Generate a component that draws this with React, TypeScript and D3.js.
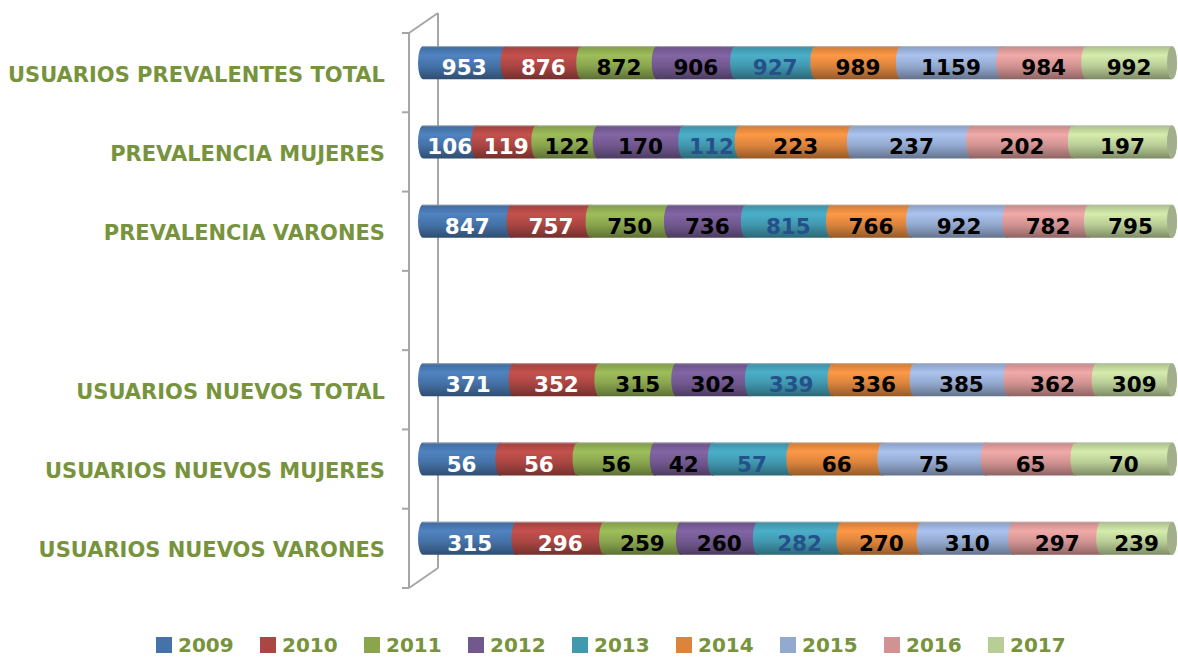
import React from 'react';
import * as d3 from 'd3';

const categories = [
  'USUARIOS PREVALENTES TOTAL',
  'PREVALENCIA MUJERES',
  'PREVALENCIA VARONES',
  '',
  'USUARIOS NUEVOS TOTAL',
  'USUARIOS NUEVOS MUJERES',
  'USUARIOS NUEVOS VARONES',
];

const years = ['2009', '2010', '2011', '2012', '2013', '2014', '2015', '2016', '2017'];

const prevalentesTotal = [953, 876, 872, 906, 927, 989, 1159, 984, 992];
const prevalenciaMujeres = [106, 119, 122, 170, 112, 223, 237, 202, 197];
const prevalenciaVarones = [847, 757, 750, 736, 815, 766, 922, 782, 795];
const nuevosTotal = [371, 352, 315, 302, 339, 336, 385, 362, 309];
const nuevosMujeres = [56, 56, 56, 42, 57, 66, 75, 65, 70];
const nuevosVarones = [315, 296, 259, 260, 282, 270, 310, 297, 239];

const rows = [prevalentesTotal, prevalenciaMujeres, prevalenciaVarones, null, nuevosTotal, nuevosMujeres, nuevosVarones];

const colors = ['#4572A7', '#AA4643', '#89A54E', '#71588F', '#4198AF', '#DB843D', '#93A9CF', '#D19392', '#B9CD96'];
const labelColors = ['#ffffff', '#ffffff', '#000000', '#000000', '#24518a', '#000000', '#000000', '#000000', '#000000'];

const W = 1178;
const H = 657;
const green = '#77933C';
const font = '"DejaVu Sans", sans-serif';

// 3d depth of the wall
const depthX = 29;
const depthY = 20;

const App = () => {
  const y = d3.scaleBand<string>().domain(categories.map((c, i) => i + '')).range([33, 588]);
  const x = d3.scaleLinear().domain([0, 1]).range([423, 1172]);
  const barH = 33;
  const rx = 5;
  const ry = barH / 2;

  const edges = d3.range(categories.length + 1).map(i => 33 + i * y.step());

  return (
    <svg width={W} height={H} style={{ position: 'absolute', left: 0, top: 0 }}>
      <defs>
        {colors.map((c, i) => {
          const col = d3.color(c)!;
          return (
            <linearGradient key={i} id={'g' + i} x1="0" y1="0" x2="0" y2="1">
              <stop offset="0" stopColor={col.darker(0.2).toString()} />
              <stop offset="0.28" stopColor={col.brighter(0.4).toString()} />
              <stop offset="0.6" stopColor={col.toString()} />
              <stop offset="0.88" stopColor={col.darker(0.7).toString()} />
              <stop offset="1" stopColor={col.darker(1.1).toString()} />
            </linearGradient>
          );
        })}
      </defs>

      {/* back wall and axis */}
      <g stroke="#a6a6a6" strokeWidth={2} fill="none">
        <line x1={409 + depthX} y1={33 - depthY} x2={409 + depthX} y2={588 - depthY} />
        <line x1={409} y1={33} x2={409} y2={588} />
        <line x1={409} y1={33} x2={409 + depthX} y2={33 - depthY} />
        <line x1={409} y1={588} x2={409 + depthX} y2={588 - depthY} />
        {edges.map((e, i) => (
          <line key={i} x1={402} y1={e} x2={409} y2={e} />
        ))}
      </g>

      {categories.map((c, i) => (
        <text key={c + i} x={385} y={y(i + '')! + y.bandwidth() / 2 + 9} textAnchor="end"
          fontFamily={font} fontWeight="bold" fontSize={21} fill={green}>{c}</text>
      ))}

      {rows.map((vals, r) => {
        if (!vals) return null;
        const total = d3.sum(vals);
        const cum = d3.cumsum(vals);
        const cy = y(r + '')! + y.bandwidth() / 2 - 10;
        const top = cy - ry;
        const bot = cy + ry;
        return (
          <g key={r}>
            {vals.map((v, i) => {
              const x0 = x(i === 0 ? 0 : cum[i - 1] / total);
              const x1 = x(cum[i] / total);
              const d = `M${x0},${top}L${x1},${top}A${rx},${ry} 0 0 1 ${x1},${bot}L${x0},${bot}A${rx},${ry} 0 0 1 ${x0},${top}Z`;
              return <path key={i} d={d} fill={`url(#g${i})`} />;
            })}
            <ellipse cx={x(1)} cy={cy} rx={rx} ry={ry}
              fill={d3.interpolateRgb(colors[8], '#777')(0.35)} />
            <line x1={x(0)} y1={top + 0.5} x2={x(1)} y2={top + 0.5} stroke="#bbbbbb" strokeOpacity={0.6} />
            {vals.map((v, i) => {
              const x0 = x(i === 0 ? 0 : cum[i - 1] / total);
              const x1 = x(cum[i] / total);
              return (
                <text key={'t' + i} x={(x0 + x1) / 2} y={cy + 12.5} textAnchor="middle"
                  fontFamily={font} fontWeight="bold" fontSize={21.5} fill={labelColors[i]}>{v}</text>
              );
            })}
          </g>
        );
      })}

      {years.map((yr, i) => (
        <g key={yr} transform={`translate(${156 + i * 104},0)`}>
          <rect x={0} y={637} width={16} height={16} fill={colors[i]} />
          <text x={22} y={652} fontFamily={font} fontWeight="bold" fontSize={20} fill={green}>{yr}</text>
        </g>
      ))}
    </svg>
  );
};

export default App;
